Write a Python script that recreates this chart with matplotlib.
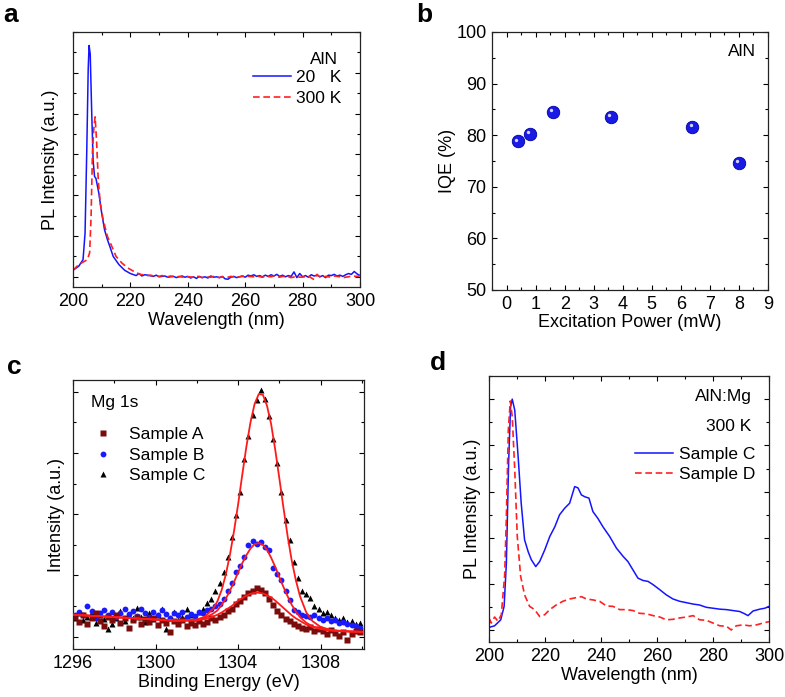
import numpy as np
import matplotlib
matplotlib.use('Agg')
import matplotlib.pyplot as plt
from matplotlib.ticker import MultipleLocator, NullFormatter
from matplotlib.transforms import offset_copy

plt.rcParams['font.family'] = ['Liberation Sans', 'DejaVu Sans']
plt.rcParams['font.size'] = 13

# ---- panel a: PL of AlN at 20 K and 300 K ----
a_x_20k = [200, 202, 203.5, 204.2, 204.8, 205.3, 205.6, 206, 206.5, 207, 207.5, 208, 209,
           210, 211, 212, 213, 214, 216, 218, 220, 222, 223, 224, 225, 226, 228, 229, 230,
           232, 233, 235, 236, 238, 239, 240, 241, 242, 243, 244, 245, 246, 247, 248, 249,
           250, 251, 252, 253, 254, 255, 256, 257, 258, 259, 260, 261, 262, 263, 264, 265,
           266, 267, 268, 269, 270, 271, 272, 273, 274, 275, 276, 277, 278, 279, 280, 281,
           282, 283, 284, 285, 286, 287, 288, 289, 290, 291, 292, 293, 294, 295, 296, 297,
           298, 299, 300]
a_y_20k = [0.16, 0.26, 0.42, 1.07, 3.1, 5.1, 5.67, 5.46, 4.08, 2.86, 2.46, 2.41, 2.05,
           1.56, 1.15, 0.91, 0.71, 0.5, 0.3, 0.16, 0.08, 0.03, 0.08, 0.02, 0.05, 0.04, 0.01, 0.04, 0.0,
           0.02, -0.01, 0.01, -0.02, 0.02, -0.01, 0.01, -0.03, 0.0, -0.04, 0.01, -0.02, 0.0, -0.03, 0.02, -0.01,
           0.0, -0.02, 0.01, -0.05, -0.06, -0.01, 0.01, -0.02, 0.0, 0.02, -0.01, 0.04, 0.02, 0.05, 0.01, 0.03,
           0.0, 0.04, 0.01, 0.05, 0.02, 0.06, 0.01, 0.04, 0.0, 0.03, 0.01, 0.12, -0.02, 0.08, 0.0, 0.03,
           -0.01, 0.05, 0.02, 0.04, 0.0, 0.03, -0.02, 0.04, 0.03, 0.06, 0.02, 0.04, 0.01, 0.05, 0.08, 0.06,
           0.13, 0.07, 0.03]

a_x_300k = [200, 202, 204, 205, 205.8, 206.3, 206.8, 207.3, 207.7, 208.2, 208.8, 209.5, 210.5,
            212, 213.5, 215, 217, 219, 221, 223, 224, 225, 226, 227, 228, 230, 231, 233, 234,
            236, 237, 239, 240, 242, 243, 245, 246, 248, 249, 251, 252, 254, 255, 257, 258,
            260, 261, 263, 264, 266, 267, 269, 270, 272, 273, 275, 276, 278, 279, 281, 282,
            284, 285, 286, 287, 288, 290, 291, 293, 294, 296, 297, 299, 300]
a_y_300k = [0.16, 0.3, 0.38, 0.42, 0.59, 1.48, 3.1, 3.67, 3.92, 3.35, 2.37, 1.8, 1.4,
            0.99, 0.75, 0.5, 0.34, 0.22, 0.14, 0.07, 0.05, 0.06, 0.03, 0.04, 0.02, 0.01, 0.03, 0.0, 0.02,
            -0.01, 0.01, -0.02, 0.0, -0.01, 0.02, -0.02, 0.0, -0.01, 0.01, -0.02, 0.0, -0.01, 0.01, -0.02, 0.0,
            0.02, 0.01, 0.0, 0.02, -0.01, 0.01, 0.0, 0.02, -0.01, 0.01, 0.0, -0.02, 0.01, -0.01, 0.0, 0.02,
            -0.07, 0.06, 0.0, -0.02, 0.01, -0.01, 0.02, 0.0, -0.02, 0.0, 0.02, 0.01, 0.03]

# ---- panel b: IQE vs excitation power ----
b_power = [0.4, 0.8, 1.6, 3.6, 6.4, 8.0]
b_iqe = [78.8, 80.3, 84.5, 83.6, 81.6, 74.6]

# ---- panel c: XPS Mg 1s ----
c_y_A = [0.32, 0.24, 0.35, 0.20, 0.30, 0.38, 0.26, 0.18, 0.33, 0.28,
         0.36, 0.22, 0.30, 0.15, 0.27, 0.33, 0.21, 0.29, 0.24, 0.31,
         0.19, 0.27, 0.22, 0.08, 0.25, 0.20, 0.28, 0.17, 0.23, 0.19,
         0.26, 0.21, 0.24, 0.30, 0.27, 0.33, 0.36, 0.42, 0.46, 0.53,
         0.58, 0.65, 0.72, 0.74, 0.80, 0.76, 0.71, 0.61, 0.52, 0.42,
         0.36, 0.29, 0.25, 0.21, 0.18, 0.15, 0.12, 0.16, 0.10, 0.13,
         0.09, 0.05, 0.11, 0.06, 0.02, 0.08, -0.06, 0.04, 0.10, 0.07]
c_y_B = [0.36, 0.40, 0.35, 0.50, 0.42, 0.31, 0.38, 0.44, 0.36, 0.41,
         0.33, 0.39, 0.45, 0.37, 0.42, 0.34, 0.46, 0.38, 0.32, 0.40,
         0.36, 0.43, 0.37, 0.31, 0.39, 0.35, 0.41, 0.33, 0.37, 0.34,
         0.40, 0.38, 0.43, 0.45, 0.50, 0.54, 0.61, 0.74, 0.88, 1.05,
         1.16, 1.30, 1.50, 1.57, 1.52, 1.55, 1.46, 1.42, 1.12, 1.02,
         0.92, 0.74, 0.60, 0.44, 0.40, 0.36, 0.34, 0.32, 0.35, 0.30,
         0.28, 0.30, 0.26, 0.27, 0.23, 0.24, 0.21, 0.19, 0.17, 0.14]
c_y_C = [0.30, 0.38, 0.27, 0.33, 0.40, 0.22, 0.35, 0.29, 0.13, 0.20,
         0.31, 0.42, 0.26, 0.36, 0.30, 0.47, 0.33, 0.24, 0.38, 0.29,
         0.35, 0.45, 0.12, 0.30, 0.41, 0.27, 0.33, 0.46, 0.36, 0.30,
         0.40, 0.46, 0.55, 0.62, 0.74, 0.88, 1.05, 1.30, 1.62, 1.98,
         2.36, 2.90, 3.28, 3.62, 3.86, 4.02, 3.88, 3.60, 3.22, 2.84,
         2.36, 1.90, 1.58, 1.22, 0.96, 0.74, 0.70, 0.64, 0.50, 0.45,
         0.38, 0.40, 0.35, 0.30, 0.27, 0.31, 0.24, 0.26, 0.20, 0.22]
c_energy = np.linspace(1296.1, 1309.9, len(c_y_A))

c_fit_x = [1296, 1297, 1298, 1299, 1300, 1301, 1301.5, 1302, 1302.4, 1302.8, 1303.0, 1303.2,
           1303.4, 1303.6, 1303.8, 1304.0, 1304.2, 1304.4, 1304.6, 1304.8, 1305.0, 1305.2,
           1305.4, 1305.6, 1305.8, 1306.0, 1306.2, 1306.4, 1306.6, 1306.8, 1307.0, 1307.3,
           1307.6, 1308.0, 1308.5, 1309, 1309.5, 1310]
c_fit_A = [0.36, 0.34, 0.32, 0.30, 0.28, 0.26, 0.26, 0.265, 0.29, 0.33, 0.36, 0.395,
           0.44, 0.48, 0.53, 0.59, 0.63, 0.67, 0.70, 0.717, 0.72, 0.707,
           0.68, 0.64, 0.59, 0.53, 0.47, 0.41, 0.35, 0.30, 0.26, 0.20,
           0.16, 0.125, 0.10, 0.09, 0.085, 0.08]
c_fit_B = [0.36, 0.34, 0.32, 0.30, 0.28, 0.27, 0.27, 0.275, 0.31, 0.38, 0.43, 0.52,
           0.62, 0.75, 0.89, 1.05, 1.20, 1.33, 1.44, 1.51, 1.53, 1.50,
           1.42, 1.29, 1.14, 0.97, 0.81, 0.66, 0.52, 0.41, 0.32, 0.23,
           0.17, 0.135, 0.11, 0.095, 0.085, 0.08]
c_fit_C = [0.36, 0.34, 0.32, 0.30, 0.28, 0.26, 0.27, 0.28, 0.33, 0.46, 0.58, 0.76,
           1.01, 1.33, 1.72, 2.16, 2.64, 3.10, 3.50, 3.80, 3.96, 3.95,
           3.77, 3.47, 3.05, 2.58, 2.10, 1.64, 1.24, 0.92, 0.66, 0.40,
           0.255, 0.16, 0.11, 0.09, 0.085, 0.08]

# ---- panel d: PL of AlN:Mg at 300 K ----
d_x_C = [200, 202, 204.2, 205.4, 206.2, 207.0, 207.7, 208.3, 209.2, 210.4, 211.5, 212.7, 214,
         215.1, 216.7, 218.1, 219.9, 221.7, 223.5, 225.2, 227, 228.8, 230.6, 231.8, 233,
         234.2, 235.7, 237.1, 238.9, 240.7, 243.1, 245.5, 247.9, 249.6, 251.4, 253.2, 255,
         256.8, 258.6, 261, 263.3, 265.7, 268.1, 270.5, 272.9, 275.2, 277.6, 280, 282.4,
         284.8, 287.1, 289.5, 291.3, 292.5, 294.3, 296.7, 298.5, 300]
d_y_C = [0.065, 0.10, 0.23, 0.52, 1.45, 3.61, 4.83, 5.0, 4.76, 3.76, 2.75, 1.96, 1.7,
         1.53, 1.38, 1.49, 1.74, 2.03, 2.24, 2.5, 2.64, 2.75, 3.11, 3.08, 2.93,
         2.89, 2.86, 2.57, 2.42, 2.24, 2.03, 1.78, 1.6, 1.49, 1.31, 1.13, 1.08,
         1.06, 0.99, 0.88, 0.77, 0.68, 0.63, 0.6, 0.57, 0.55, 0.5, 0.48, 0.46,
         0.45, 0.43, 0.41, 0.36, 0.32, 0.42, 0.46, 0.48, 0.52]
d_x_D = [200, 200.8, 202, 203.2, 204.4, 205.6, 206.2, 206.9, 207.6, 208.3, 209.2, 210.1, 211.3,
         212.7, 214.5, 216.3, 218.1, 219.9, 221.7, 224, 226.4, 228.8, 231.2, 233, 234.8,
         237.1, 239.5, 241.9, 244.3, 246.7, 249, 251.4, 253.8, 256.2, 258.6, 261, 263.3,
         265.7, 268.1, 270.5, 272.9, 275.2, 277.6, 280, 282.4, 284.8, 286.5, 288.3, 290.7,
         293.1, 295.5, 297.9, 300]
d_y_D = [0.27, 0.16, 0.29, 0.2, 0.34, 1.2, 2.46, 4.33, 4.96, 4.62, 3.47, 2.03, 1.17,
         0.77, 0.52, 0.45, 0.3, 0.34, 0.45, 0.55, 0.63, 0.68, 0.71, 0.73, 0.68,
         0.66, 0.63, 0.53, 0.52, 0.45, 0.45, 0.43, 0.37, 0.36, 0.32, 0.29, 0.23,
         0.24, 0.27, 0.29, 0.32, 0.23, 0.22, 0.16, 0.1, 0.09, 0.01, 0.1, 0.12,
         0.1, 0.12, 0.16, 0.19]


def style_axis(ax):
    ax.tick_params(which='both', direction='in', top=True, right=True, labelsize=13, pad=4)
    ax.tick_params(which='major', length=3.5, width=0.8)
    ax.tick_params(which='minor', length=2.5, width=0.8)
    for s in ax.spines.values():
        s.set_linewidth(0.9)
        s.set_color('#222222')


fig = plt.figure(figsize=(7.85, 6.97), dpi=100)
H = 697.0
W = 785.0


def add_ax(l, t, r, b):
    return fig.add_axes([l / W, 1 - b / H, (r - l) / W, (b - t) / H])


# panel a
ax = add_ax(73, 32, 360, 287)
ax.plot(a_x_20k, a_y_20k, color='#1414ff', lw=1.1, label='20   K')
ax.plot(a_x_300k, a_y_300k, color='#ff2020', lw=1.2, ls=(0, (4, 2.2)), label='300 K')
ax.set_xlim(200, 300)
ax.set_ylim(-0.25, 6.0)
ax.xaxis.set_major_locator(MultipleLocator(20))
ax.xaxis.set_minor_locator(MultipleLocator(10))
ax.yaxis.set_major_locator(MultipleLocator(1))
ax.yaxis.set_minor_locator(MultipleLocator(0.5))
ax.yaxis.set_major_formatter(NullFormatter())
ax.set_xlabel('Wavelength (nm)', labelpad=2)
ax.set_ylabel('PL Intensity (a.u.)', labelpad=6)
style_axis(ax)
ax.text(0.924, 0.893, 'AlN', transform=ax.transAxes, ha='right', va='center', fontsize=12.5)
ax.legend(loc='upper right', bbox_to_anchor=(0.935, 0.85), frameon=False, fontsize=12.5,
          handlelength=2.2, handletextpad=0.3, labelspacing=0.3, borderpad=0, borderaxespad=0)

# panel b
ax = add_ax(492, 32, 768, 290)
ax.plot(b_power, b_iqe, 'o', ms=9, color='#1a1ae6', mec='#0000a0', mew=0.6)
hl = offset_copy(ax.transData, fig=fig, x=-1.8, y=1.8, units='dots')
ax.plot(b_power, b_iqe, 'o', ms=2.4, color='#d8d8ff', mec='none', transform=hl)
ax.set_xlim(-0.5, 9)
ax.set_ylim(50, 100)
ax.xaxis.set_major_locator(MultipleLocator(1))
ax.xaxis.set_minor_locator(MultipleLocator(0.5))
ax.yaxis.set_major_locator(MultipleLocator(10))
ax.yaxis.set_minor_locator(MultipleLocator(5))
ax.set_xlabel('Excitation Power (mW)', labelpad=1)
ax.set_ylabel('IQE (%)', labelpad=0)
style_axis(ax)
ax.text(0.955, 0.924, 'AlN', transform=ax.transAxes, ha='right', va='center', fontsize=12.5)

# panel c
ax = add_ax(73, 380, 364, 649)
ax.plot(c_energy, c_y_C, '^', ms=4, color='black', mec='none', label='Sample C', zorder=2)
ax.plot(c_energy, c_y_B, 'o', ms=4.2, color='#1a1aff', mec='none', label='Sample B', zorder=2)
ax.plot(c_energy, c_y_A, 's', ms=3.8, color='#7a0c0c', mec='none', label='Sample A', zorder=2)
for fy in (c_fit_A, c_fit_B, c_fit_C):
    ax.plot(c_fit_x, fy, color='#ff1a1a', lw=1.3, zorder=3)
ax.set_xlim(1296, 1310.1)
ax.set_ylim(-0.2, 4.19)
ax.xaxis.set_major_locator(MultipleLocator(4))
ax.xaxis.set_minor_locator(MultipleLocator(2))
ax.yaxis.set_major_locator(MultipleLocator(1))
ax.yaxis.set_minor_locator(MultipleLocator(0.5))
ax.yaxis.set_major_formatter(NullFormatter())
ax.set_xlabel('Binding Energy (eV)', labelpad=2)
ax.set_ylabel('Intensity (a.u.)', labelpad=2)
style_axis(ax)
ax.text(0.062, 0.916, 'Mg 1s', transform=ax.transAxes, ha='left', va='center', fontsize=12.5)
h, l = ax.get_legend_handles_labels()
ax.legend(h[::-1], l[::-1], loc='upper left', bbox_to_anchor=(0.074, 0.825), frameon=False,
          fontsize=12.5, handlelength=1.0, handletextpad=1.0, labelspacing=0.3,
          borderpad=0, borderaxespad=0, markerscale=1.0)

# panel d
ax = add_ax(489, 376, 769, 642)
ax.plot(d_x_C, d_y_C, color='#1414ff', lw=1.1, label='Sample C')
ax.plot(d_x_D, d_y_D, color='#ff2020', lw=1.2, ls=(0, (4, 2.2)), label='Sample D')
ax.set_xlim(200, 300)
ax.set_ylim(-0.25, 5.5)
ax.xaxis.set_major_locator(MultipleLocator(20))
ax.xaxis.set_minor_locator(MultipleLocator(10))
ax.yaxis.set_major_locator(MultipleLocator(1))
ax.yaxis.set_minor_locator(MultipleLocator(0.5))
ax.yaxis.set_major_formatter(NullFormatter())
ax.set_xlabel('Wavelength (nm)', labelpad=2)
ax.set_ylabel('PL Intensity (a.u.)', labelpad=2)
style_axis(ax)
ax.text(0.938, 0.922, 'AlN:Mg', transform=ax.transAxes, ha='right', va='center', fontsize=12.5)
ax.text(0.935, 0.812, '300 K', transform=ax.transAxes, ha='right', va='center', fontsize=12.5)
ax.legend(loc='upper right', bbox_to_anchor=(0.95, 0.735), frameon=False, fontsize=12.5,
          handlelength=2.2, handletextpad=0.3, labelspacing=0.3, borderpad=0, borderaxespad=0)

# panel letters
for lab, x, y in (('a', 3, 15), ('b', 416, 15), ('c', 7, 367), ('d', 430, 363)):
    fig.text(x / W, 1 - y / H, lab, fontsize=19, fontweight='bold', ha='left', va='center')

fig.savefig('out.png', dpi=100)
